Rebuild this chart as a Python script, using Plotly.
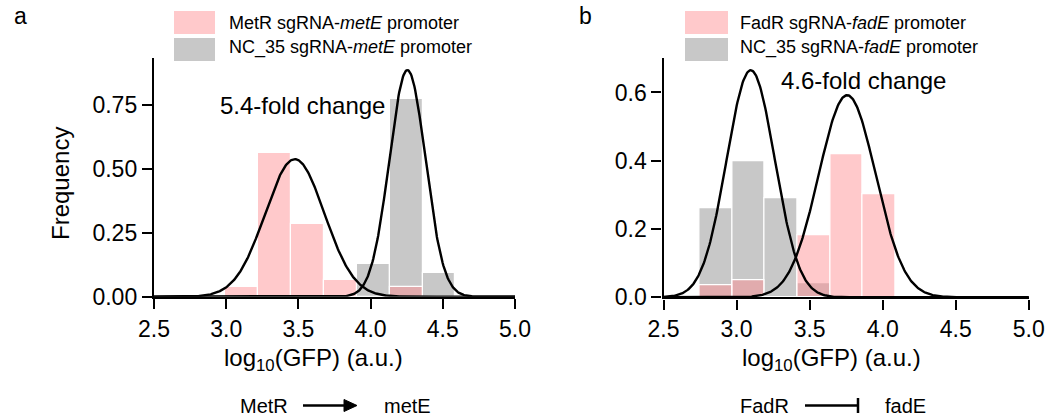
import numpy as np
import plotly.graph_objects as go

W, H = 1047, 418

# ---------------- data ----------------
# Panel a : MetR sgRNA vs NC_35 sgRNA on metE promoter
a_bin_start = 2.995
a_bin_width = 0.2275
a_metr_freq = [0.037, 0.560, 0.283, 0.065, 0.000, 0.037, 0.000]
a_nc35_freq = [0.000, 0.000, 0.000, 0.000, 0.128, 0.771, 0.091]
a_fit_mean = [3.475, 4.255]   # MetR, NC_35
a_fit_sd = [0.205, 0.125]
a_fit_peak = [0.537, 0.885]

# Panel b : FadR sgRNA vs NC_35 sgRNA on fadE promoter
b_bin_start = 2.746
b_bin_width = 0.2235
b_fadr_freq = [0.036, 0.051, 0.000, 0.182, 0.418, 0.302]
b_nc35_freq = [0.260, 0.397, 0.291, 0.041, 0.000, 0.000]
b_fit_mean = [3.757, 3.097]   # FadR, NC_35
b_fit_sd = [0.195, 0.165]
b_fit_peak = [0.592, 0.665]

x_ticks = [2.5, 3.0, 3.5, 4.0, 4.5, 5.0]
a_y_ticks = [0.0, 0.25, 0.5, 0.75]
b_y_ticks = [0.0, 0.2, 0.4, 0.6]

a_legend = ["MetR sgRNA-<i>metE</i> promoter", "NC_35 sgRNA-<i>metE</i> promoter"]
b_legend = ["FadR sgRNA-<i>fadE</i> promoter", "NC_35 sgRNA-<i>fadE</i> promoter"]
a_fold = "5.4-fold change"
b_fold = "4.6-fold change"

# ---------------- style ----------------
FONT = "Liberation Sans, Arial, Helvetica, sans-serif"
PINK = "rgba(255,135,140,0.45)"
GRAY = "#c8c8c8"
BLACK = "#000000"


def px(x, y):
    return x / W, 1 - y / H


def centers(start, width, n):
    return [start + width * (i + 0.5) for i in range(n)]


def nonzero(xs, ys):
    pairs = [(x, y) for x, y in zip(xs, ys) if y > 0]
    return [p[0] for p in pairs], [p[1] for p in pairs]


fig = go.Figure()

xx = np.linspace(2.5, 5.0, 500)


def add_panel(start, width, pink, gray, means, sds, peaks, xa, ya):
    c = centers(start, width, len(pink))
    gx, gy = nonzero(c, gray)
    fig.add_trace(go.Bar(x=gx, y=gy, width=width, marker=dict(color=GRAY, line=dict(color="white", width=1.2)),
                         xaxis=xa, yaxis=ya, showlegend=False))
    pxs, pys = nonzero(c, pink)
    fig.add_trace(go.Bar(x=pxs, y=pys, width=width, marker=dict(color=PINK, line=dict(color="white", width=1.2)),
                         xaxis=xa, yaxis=ya, showlegend=False))
    for m, s, p in zip(means, sds, peaks):
        yy = p * np.exp(-((xx - m) ** 2) / (2 * s ** 2))
        fig.add_trace(go.Scatter(x=xx, y=yy, mode="lines", line=dict(color=BLACK, width=2.4),
                                 xaxis=xa, yaxis=ya, showlegend=False, cliponaxis=False))


add_panel(a_bin_start, a_bin_width, a_metr_freq, a_nc35_freq, a_fit_mean, a_fit_sd, a_fit_peak, "x", "y")
add_panel(b_bin_start, b_bin_width, b_fadr_freq, b_nc35_freq, b_fit_mean, b_fit_sd, b_fit_peak, "x2", "y2")

axis_common = dict(
    showgrid=False, zeroline=False, showline=True, linecolor=BLACK, linewidth=2.4,
    ticks="outside", ticklen=10, tickwidth=2, tickcolor=BLACK, automargin=False,
    tickfont=dict(family=FONT, size=23, color=BLACK),
)

fig.update_layout(
    width=W, height=H,
    margin=dict(l=0, r=0, t=0, b=0, pad=0, autoexpand=False),
    paper_bgcolor="white", plot_bgcolor="white",
    barmode="overlay", bargap=0,
    showlegend=False,
    xaxis=dict(domain=[154 / W, 515 / W], range=[2.5, 5.0], tickvals=x_ticks,
               ticktext=[f"{v:.1f}" for v in x_ticks], anchor="y", **axis_common),
    yaxis=dict(domain=[1 - 296.7 / H, 1 - 58 / H], range=[0, 0.932], tickvals=a_y_ticks,
               ticktext=[f"{v:.2f}" for v in a_y_ticks], anchor="x", **axis_common),
    xaxis2=dict(domain=[663.5 / W, 1028.8 / W], range=[2.5, 5.0], tickvals=x_ticks,
                ticktext=[f"{v:.1f}" for v in x_ticks], anchor="y2", **axis_common),
    yaxis2=dict(domain=[1 - 297.3 / H, 1 - 58.3 / H], range=[0, 0.70], tickvals=b_y_ticks,
                ticktext=[f"{v:.1f}" for v in b_y_ticks], anchor="x2", **axis_common),
)

ann = []


def text(x, y, s, size, xanchor="left", angle=0):
    X, Y = px(x, y)
    ann.append(dict(x=X, y=Y, xref="paper", yref="paper", text=s, showarrow=False,
                    xanchor=xanchor, yanchor="middle", textangle=angle,
                    font=dict(family=FONT, size=size, color=BLACK)))


shapes = []


def rect(x0, y0, x1, y1, color):
    X0, Y0 = px(x0, y0)
    X1, Y1 = px(x1, y1)
    shapes.append(dict(type="rect", xref="paper", yref="paper", x0=X0, y0=Y1, x1=X1, y1=Y0,
                       fillcolor=color, line=dict(width=0)))


def line(x0, y0, x1, y1, w=2.5):
    X0, Y0 = px(x0, y0)
    X1, Y1 = px(x1, y1)
    shapes.append(dict(type="line", xref="paper", yref="paper", x0=X0, y0=Y0, x1=X1, y1=Y1,
                       line=dict(color=BLACK, width=w)))


# panel letters
text(12, 16, "a", 23)
text(577, 16, "b", 23)

# legends
rect(174, 11, 215, 34, PINK)
rect(174, 38, 215, 61, GRAY)
text(227, 23.3, a_legend[0], 18)
text(227, 47.5, a_legend[1], 18)
rect(685, 11, 728, 34, PINK)
rect(685, 38, 728, 61, GRAY)
text(738, 23.3, b_legend[0], 18)
text(738, 47.5, b_legend[1], 18)

# fold change labels
text(218, 105.3, a_fold, 24)
text(779, 81, b_fold, 24)

# axis titles
text(60, 184, "Frequency", 24, xanchor="center", angle=-90)
text(313.3, 359.5, "log<sub>10</sub>(GFP) (a.u.)", 24, xanchor="center")
text(831.7, 359.5, "log<sub>10</sub>(GFP) (a.u.)", 24, xanchor="center")

# regulation schematics
text(238.3, 405.5, "MetR", 20)
text(381.7, 405.5, "metE", 20)
line(303, 405.5, 346, 405.5)
X0, Y0 = px(344, 399.5)
X1, Y1 = px(357, 405.5)
X2, Y2 = px(344, 411.5)
shapes.append(dict(type="path", xref="paper", yref="paper",
                   path=f"M {X0} {Y0} L {X1} {Y1} L {X2} {Y2} Z",
                   fillcolor=BLACK, line=dict(color=BLACK, width=1)))

text(738.3, 405.5, "FadR", 20)
text(883.3, 405.5, "fadE", 20)
line(805, 405.5, 858, 405.5)
line(858, 398, 858, 413)

fig.update_layout(annotations=ann, shapes=shapes)

fig.write_html("out.html")
